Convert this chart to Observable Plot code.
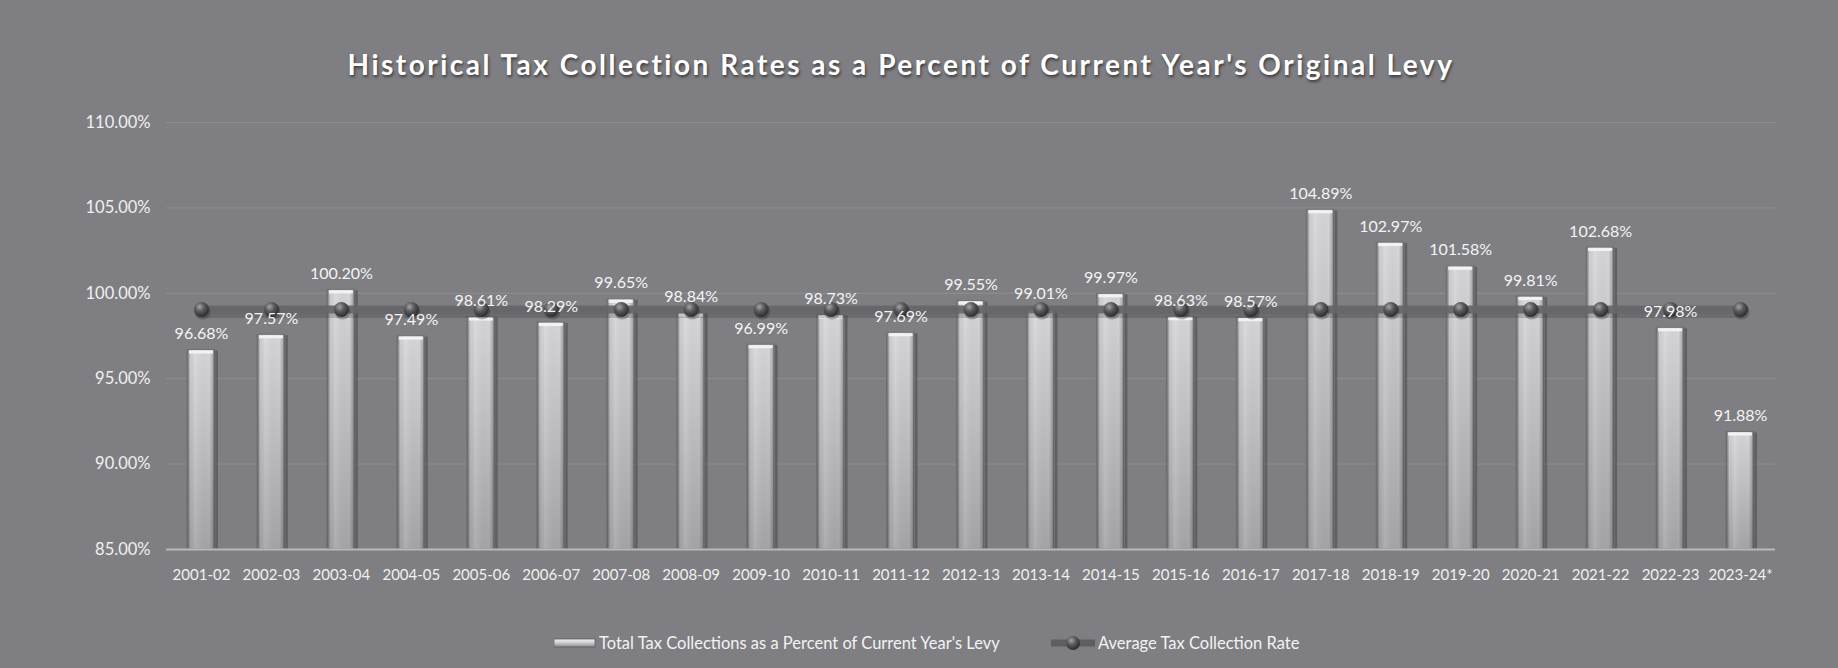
<!DOCTYPE html>
<html>
<head>
<meta charset="utf-8">
<script src="https://cdn.jsdelivr.net/npm/d3@7"></script>
<script src="https://cdn.jsdelivr.net/npm/@observablehq/plot@0.6"></script>
<style>
  html, body { margin: 0; padding: 0; background: #7f7f83; }
  #chart { position: relative; width: 1838px; height: 668px; background: #7f7f83; overflow: hidden; font-family: Lato, "Open Sans", sans-serif; }
  #title { position: absolute; top: 47px; left: 0; width: 1802px; text-align: center; color: #ffffff; font-weight: bold; font-size: 28px; letter-spacing: 2.5px; text-shadow: 1px 2px 3px rgba(0,0,0,0.55); white-space: nowrap; }
  #plot { position: absolute; top: 100px; left: 0; }
  .legend-item { position: absolute; top: 633px; height: 20px; display: flex; align-items: center; color: #f2f2f2; font-size: 16.5px; white-space: nowrap; }
  .legend-item svg { margin-right: 3px; }
</style>
</head>
<body>
<div id="chart">
  <div id="title">Historical Tax Collection Rates as a Percent of Current Year's Original Levy</div>
  <div id="plot"></div>
  <div class="legend-item" style="left:554px">
    <svg width="42" height="12"><defs><linearGradient id="lgBar" x1="0" y1="0" x2="0" y2="1"><stop offset="0" stop-color="#f4f4f6"/><stop offset="0.45" stop-color="#cfcfd1"/><stop offset="1" stop-color="#8a8a8c"/></linearGradient></defs><rect x="0" y="2" width="41" height="8" fill="url(#lgBar)" stroke="#5c5c5e" stroke-width="0.8"/></svg>
    <span>Total Tax Collections as a Percent of Current Year's Levy</span>
  </div>
  <div class="legend-item" style="left:1051px">
    <svg width="44" height="20"><defs><radialGradient id="lgDot" cx="0.38" cy="0.32" r="0.7"><stop offset="0" stop-color="#a4a4a6"/><stop offset="0.45" stop-color="#5a5a5d"/><stop offset="1" stop-color="#2b2b2d"/></radialGradient></defs><line x1="0" x2="44" y1="10" y2="10" stroke="#5e5e61" stroke-width="7"/><circle cx="22" cy="10" r="7" fill="url(#lgDot)"/></svg>
    <span>Average Tax Collection Rate</span>
  </div>
</div>
<script>
// ---- data ----
const years = ["2001-02","2002-03","2003-04","2004-05","2005-06","2006-07","2007-08","2008-09","2009-10","2010-11","2011-12","2012-13","2013-14","2014-15","2015-16","2016-17","2017-18","2018-19","2019-20","2020-21","2021-22","2022-23","2023-24*"];
const collectionRates = [96.68, 97.57, 100.20, 97.49, 98.61, 98.29, 99.65, 98.84, 96.99, 98.73, 97.69, 99.55, 99.01, 99.97, 98.63, 98.57, 104.89, 102.97, 101.58, 99.81, 102.68, 97.98, 91.88];
const averageRates = [99.05, 99.05, 99.05, 99.05, 99.05, 99.05, 99.05, 99.05, 99.05, 99.05, 99.05, 99.05, 99.05, 99.05, 99.05, 99.05, 99.05, 99.05, 99.05, 99.05, 99.05, 99.05, 99.05];
const yTicks = [85, 90, 95, 100, 105, 110];

const rows = years.map((year, i) => ({year, rate: collectionRates[i], avg: averageRates[i]}));
const pct = v => v.toFixed(2) + "%";

const chart = Plot.plot({
  width: 1838,
  height: 499,
  marginTop: 22,
  marginBottom: 50,
  marginLeft: 166,
  marginRight: 63,
  style: {background: "transparent", fontFamily: "Lato, 'Open Sans', sans-serif", fontSize: "16px", color: "#f0f0f0", overflow: "visible"},
  x: {domain: years, paddingInner: 0.6, paddingOuter: 0.3, round: false, label: null},
  y: {domain: [85, 110], clamp: true, label: null},
  marks: [
    Plot.gridY(yTicks.slice(1), {stroke: "#9a9a9e", strokeOpacity: 0.55, strokeWidth: 1}),
    Plot.axisY({ticks: yTicks, tickFormat: pct, tickSize: 0, tickPadding: 16, fill: "#f0f0f0", fontSize: 16.5, label: null}),
    Plot.axisX({tickSize: 0, tickPadding: 20, fill: "#f0f0f0", fontSize: 15, label: null}),
    // bar shadow
    Plot.barY(rows, {x: "year", y: "rate", fill: "#3c3c3e", fillOpacity: 0.45, dx: 3, dy: 1}),
    // bar body
    Plot.barY(rows, {x: "year", y: "rate", fill: "url(#barBase)"}),
    Plot.barY(rows, {x: "year", y: "rate", fill: "url(#barEdge)", stroke: "#707073", strokeWidth: 1}),
    // bevel cap
    Plot.tickY(rows, {x: "year", y: "rate", stroke: "#f2f2f4", strokeWidth: 3, dy: 2, inset: 2}),
    Plot.ruleY([85], {stroke: "#b9b9bc", strokeWidth: 2}),
    // average line
    Plot.line(rows, {x: "year", y: "avg", stroke: "#2a2a2c", strokeOpacity: 0.22, strokeWidth: 11, dy: 3}),
    Plot.line(rows, {x: "year", y: "avg", stroke: "#67676a", strokeOpacity: 0.92, strokeWidth: 8}),
    Plot.dot(rows, {x: "year", y: "avg", r: 8, fill: "#222", fillOpacity: 0.3, dx: 1, dy: 2}),
    Plot.dot(rows, {x: "year", y: "avg", r: 7.5, fill: "url(#sphere)"}),
    // data labels
    Plot.text(rows, {x: "year", y: "rate", text: d => pct(d.rate), dy: -16, fill: "#f4f4f4", fontSize: 16})
  ]
});

const defs = d3.select(chart).insert("defs", ":first-child");
const base = defs.append("linearGradient").attr("id", "barBase").attr("x1", 0).attr("y1", 0).attr("x2", 0).attr("y2", 1);
[[0, "#d6d6d8"], [0.4, "#c3c3c5"], [1, "#a4a4a6"]].forEach(([o, c]) => base.append("stop").attr("offset", o).attr("stop-color", c));
const edge = defs.append("linearGradient").attr("id", "barEdge").attr("x1", 0).attr("y1", 0).attr("x2", 1).attr("y2", 0);
[[0, "#3a3a3c", 0.75], [0.12, "#3a3a3c", 0.05], [0.3, "#ffffff", 0.12], [0.8, "#3a3a3c", 0.0], [0.92, "#3a3a3c", 0.25], [1, "#2c2c2e", 0.85]].forEach(([o, c, a]) => edge.append("stop").attr("offset", o).attr("stop-color", c).attr("stop-opacity", a));
const sph = defs.append("radialGradient").attr("id", "sphere").attr("cx", 0.38).attr("cy", 0.32).attr("r", 0.7);
[[0, "#a4a4a6"], [0.45, "#5a5a5d"], [1, "#2b2b2d"]].forEach(([o, c]) => sph.append("stop").attr("offset", o).attr("stop-color", c));

document.getElementById("plot").appendChild(chart);
</script>
</body>
</html>
